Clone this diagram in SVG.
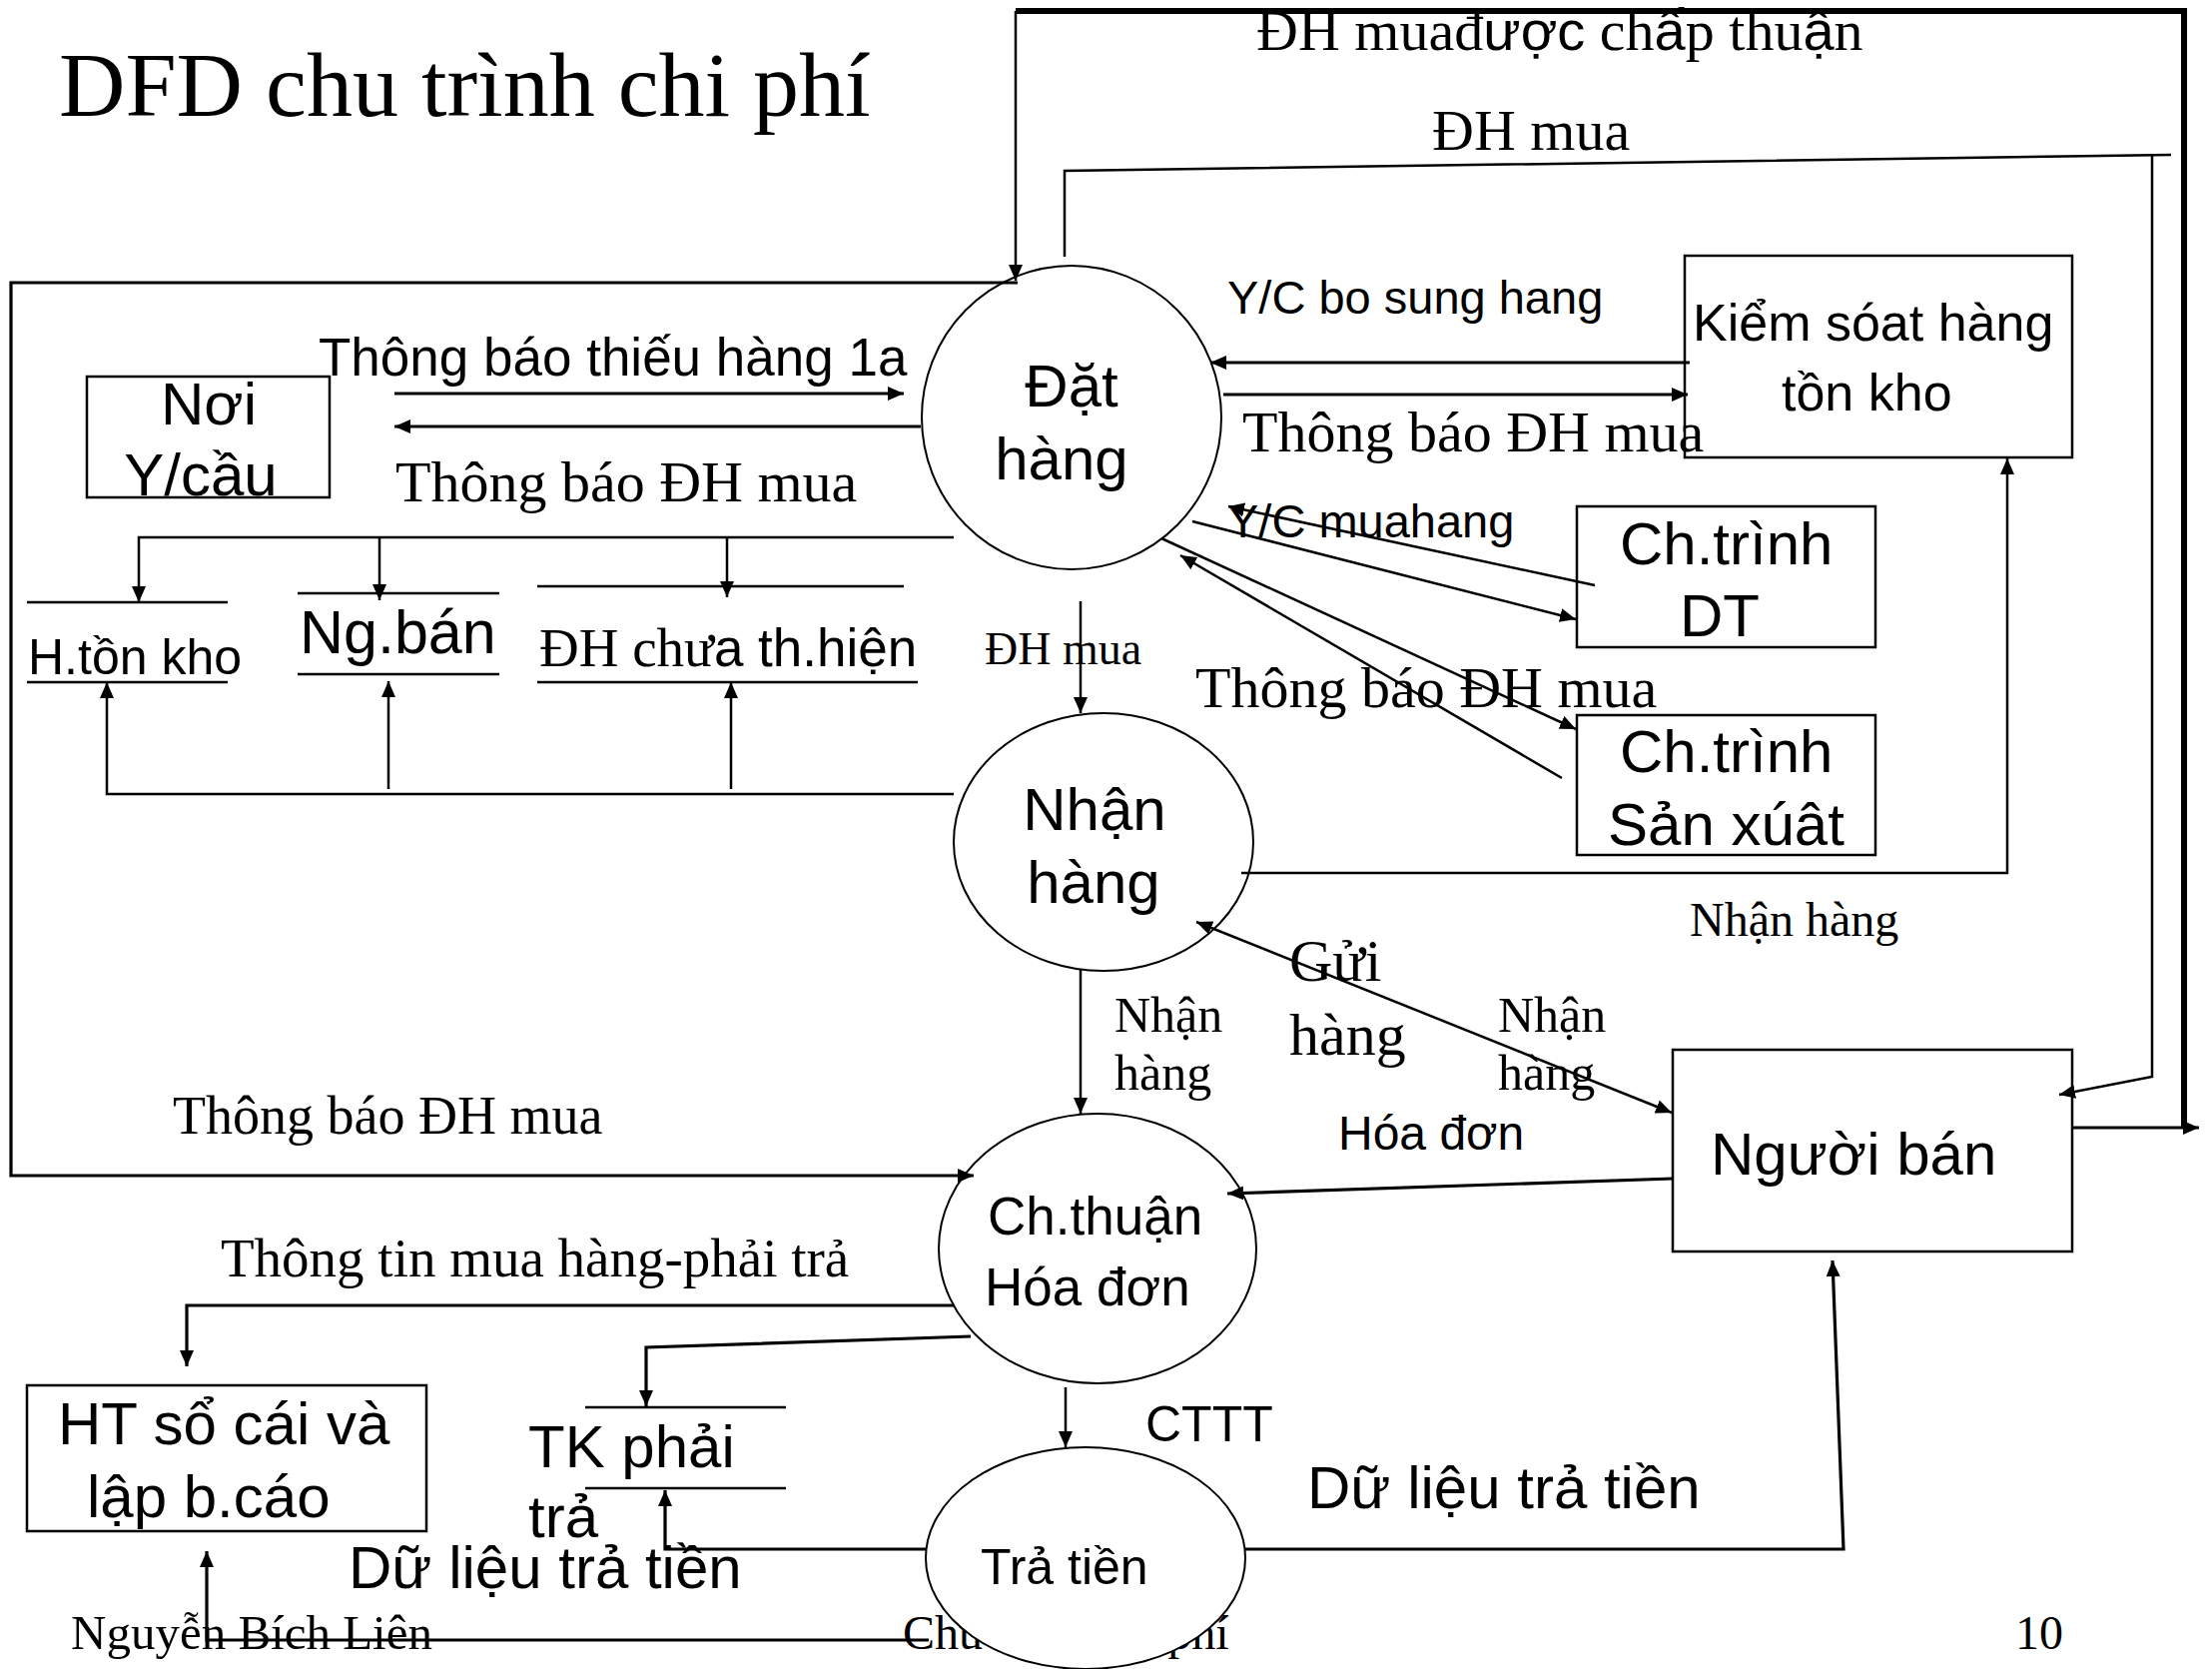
<svg xmlns="http://www.w3.org/2000/svg" width="2215" height="1671" viewBox="0 0 2215 1671">
<style>
.sr{font-family:"Liberation Serif","Times New Roman",serif;fill:#000}
.ss{font-family:"Liberation Sans",Arial,sans-serif;fill:#000}
.ln{fill:none;stroke:#000;stroke-width:2.5}
.th{fill:none;stroke:#000;stroke-width:3.2}
.bx{fill:none;stroke:#000;stroke-width:2.5}
.el{fill:none;stroke:#000;stroke-width:2}
.elw{fill:#fff;stroke:#000;stroke-width:2}
.st{stroke:#000;stroke-width:2.5}
</style>
<defs>
<marker id="a" markerUnits="userSpaceOnUse" markerWidth="18" markerHeight="14" refX="16" refY="7" orient="auto-start-reverse">
<path d="M0,0 L16,7 L0,14 z" fill="#000"/>
</marker>
</defs>
<rect width="2215" height="1671" fill="#fff"/>
<text class="sr" x="59" y="116" font-size="92">DFD chu trình chi phí</text>
<text class="sr" x="71" y="1651" font-size="49">Nguyễn Bích Liên</text>
<text class="sr" x="904" y="1651" font-size="48">Chu trình chi phí</text>
<text class="sr" x="2018" y="1651" font-size="48">10</text>
<g id="connectors">
<path d="M2187,1129 V11 H1017" fill="none" stroke="#000" stroke-width="6"/>
<path class="ln" d="M1017,11 V281" marker-end="url(#a)"/>
<path class="th" d="M2076,1129 H2202" marker-end="url(#a)"/>
<path class="ln" d="M1066,257 V171 L2174,155"/>
<path class="ln" d="M2155,155 V1078 L2062,1096" marker-end="url(#a)"/>
<path class="th" d="M1019,283 H11 V1177 H975" marker-end="url(#a)"/>
<path class="th" d="M395,394 H905" marker-end="url(#a)"/>
<path class="th" d="M922,427 H395" marker-end="url(#a)"/>
<path class="ln" d="M955,538 H139 V603" marker-end="url(#a)"/>
<path class="ln" d="M380,538 V601" marker-end="url(#a)"/>
<path class="ln" d="M728,538 V598" marker-end="url(#a)"/>
<path class="ln" d="M955,795 H107 V683" marker-end="url(#a)"/>
<path class="ln" d="M389,790 V682" marker-end="url(#a)"/>
<path class="ln" d="M732,790 V683" marker-end="url(#a)"/>
<path class="th" d="M1692,363 H1212" marker-end="url(#a)"/>
<path class="th" d="M1225,395 H1690" marker-end="url(#a)"/>
<path class="ln" d="M1597,586 L1230,507" marker-end="url(#a)"/>
<path class="ln" d="M1194,522 L1578,620" marker-end="url(#a)"/>
<path class="ln" d="M1163,539 L1578,730" marker-end="url(#a)"/>
<path class="ln" d="M1564,779 L1182,556" marker-end="url(#a)"/>
<path class="ln" d="M1082,602 V714" stroke-width="4.5" marker-end="url(#a)"/>
<path class="ln" d="M1243,874 H2010 V459" marker-end="url(#a)"/>
<path class="ln" d="M1198,923 L1674,1114" marker-start="url(#a)" marker-end="url(#a)"/>
<path class="ln" d="M1082,971 V1115" marker-end="url(#a)"/>
<path class="th" d="M1675,1180 L1229,1195" marker-end="url(#a)"/>
<path class="th" d="M955,1307 H187 V1368" marker-end="url(#a)"/>
<path class="th" d="M972,1338 L647,1349 V1408" marker-end="url(#a)"/>
<path class="th" d="M927,1551 H666 V1492" marker-end="url(#a)"/>
<path class="th" d="M930,1642 H207 V1553" marker-end="url(#a)"/>
<path class="th" d="M1246,1551 H1846 L1835,1262" marker-end="url(#a)"/>
<path class="ln" d="M1067,1389 V1449" marker-end="url(#a)"/>
</g>
<g id="labels">
<text class="sr" x="1258" y="50" font-size="58">ĐH muađ<tspan class="ss" font-size="56">ược</tspan> ch<tspan class="ss" font-size="56">ấ</tspan>p thu<tspan class="ss" font-size="56">ậ</tspan>n</text>
<text class="sr" x="1434" y="150" font-size="58">ĐH mua</text>
<text class="ss" x="319" y="376" font-size="53">Thông báo thiếu hàng 1a</text>
<text class="sr" x="396" y="502" font-size="58">Thông báo ĐH mua</text>
<text class="ss" x="1229" y="314" font-size="47">Y/C bo sung hang</text>
<text class="sr" x="1244" y="452" font-size="58">Thông báo ĐH mua</text>
<text class="ss" x="1229" y="538" font-size="47">Y/C muahang</text>
<text class="sr" x="1197" y="708" font-size="58">Thông báo ĐH mua</text>
<text class="sr" x="986" y="665" font-size="46">ĐH mua</text>
<text class="sr" x="1692" y="937" font-size="48">Nhận hàng</text>
<text class="sr" x="1291" y="982" font-size="60">Gửi</text>
<text class="sr" x="1291" y="1056" font-size="60">hàng</text>
<text class="sr" x="1116" y="1033" font-size="50">Nhận</text>
<text class="sr" x="1116" y="1091" font-size="50">hàng</text>
<text class="sr" x="1500" y="1033" font-size="50">Nhận</text>
<text class="sr" x="1500" y="1091" font-size="50">hàng</text>
<text class="ss" x="1340" y="1151" font-size="48">Hóa đơn</text>
<text class="sr" x="173" y="1135" font-size="54">Thông báo ĐH mua</text>
<text class="sr" x="221" y="1278" font-size="55">Thông tin mua hàng-phải trả</text>
<text class="ss" x="1147" y="1443" font-size="50">CTTT</text>
<text class="ss" x="349" y="1590" font-size="60">Dữ liệu trả tiền</text>
<text class="ss" x="1309" y="1510" font-size="60">Dữ liệu trả tiền</text>
</g>
<g id="n-dathang">
<ellipse class="el" cx="1073" cy="418" rx="150" ry="152"/>
<text class="ss" x="1073" y="407" font-size="60" text-anchor="middle">Đặt</text>
<text class="ss" x="1063" y="480" font-size="60" text-anchor="middle">hàng</text>
</g>
<g id="n-nhanhang">
<ellipse class="el" cx="1105" cy="843" rx="150" ry="129"/>
<text class="ss" x="1096" y="831" font-size="60" text-anchor="middle">Nhận</text>
<text class="ss" x="1095" y="904" font-size="60" text-anchor="middle">hàng</text>
</g>
<g id="n-chthuan">
<ellipse class="el" cx="1099" cy="1250" rx="159" ry="135"/>
<text class="ss" x="989" y="1236" font-size="53">Ch.thuận</text>
<text class="ss" x="986" y="1307" font-size="53">Hóa đơn</text>
</g>
<g id="n-tratien">
<ellipse class="elw" cx="1087" cy="1560" rx="160" ry="111"/>
<text class="ss" x="982" y="1586" font-size="50">Trả tiền</text>
</g>
<g id="n-noiycau">
<rect class="bx" x="87" y="377" width="243" height="121"/>
<text class="ss" x="209" y="425" font-size="60" text-anchor="middle">Nơi</text>
<text class="ss" x="201" y="496" font-size="60" text-anchor="middle">Y/cầu</text>
</g>
<g id="n-kiemsoat">
<rect class="bx" x="1687" y="256" width="388" height="202"/>
<text class="ss" x="1695" y="341" font-size="52">Kiểm sóat hàng</text>
<text class="ss" x="1784" y="411" font-size="52">tồn kho</text>
</g>
<g id="n-chtrinhdt">
<rect class="bx" x="1579" y="507" width="299" height="141"/>
<text class="ss" x="1622" y="565" font-size="60">Ch.trình</text>
<text class="ss" x="1682" y="637" font-size="60">DT</text>
</g>
<g id="n-chtrinhsx">
<rect class="bx" x="1579" y="716" width="299" height="140"/>
<text class="ss" x="1622" y="773" font-size="60">Ch.trình</text>
<text class="ss" x="1610" y="846" font-size="60">Sản xúât</text>
</g>
<g id="n-nguoiban">
<rect class="bx" x="1675" y="1051" width="400" height="202"/>
<text class="ss" x="1713" y="1176" font-size="60">Người bán</text>
</g>
<g id="n-htsocai">
<rect class="bx" x="27" y="1387" width="400" height="146"/>
<text class="ss" x="58" y="1446" font-size="60">HT sổ cái và</text>
<text class="ss" x="87" y="1519" font-size="60">lập b.cáo</text>
</g>
<g id="s-htonkho">
<line class="st" x1="27" y1="603" x2="228" y2="603"/>
<line class="st" x1="27" y1="683" x2="228" y2="683"/>
<text class="ss" x="28" y="675" font-size="50">H.tồn kho</text>
</g>
<g id="s-ngban">
<line class="st" x1="298" y1="594" x2="500" y2="594"/>
<line class="st" x1="298" y1="675" x2="500" y2="675"/>
<text class="ss" x="300" y="654" font-size="61">Ng.bán</text>
</g>
<g id="s-dhchua">
<line class="st" x1="538" y1="587" x2="905" y2="587"/>
<line class="st" x1="538" y1="683" x2="919" y2="683"/>
<text class="sr" x="540" y="667" font-size="55">ĐH chư<tspan class="ss" font-size="53">a th.hiện</tspan></text>
</g>
<g id="s-tkphaitra">
<line class="st" x1="586" y1="1409" x2="787" y2="1409"/>
<line class="st" x1="586" y1="1490" x2="787" y2="1490"/>
<text class="ss" x="529" y="1469" font-size="60">TK phải</text>
<text class="ss" x="529" y="1539" font-size="60">trả</text>
</g>
</svg>
